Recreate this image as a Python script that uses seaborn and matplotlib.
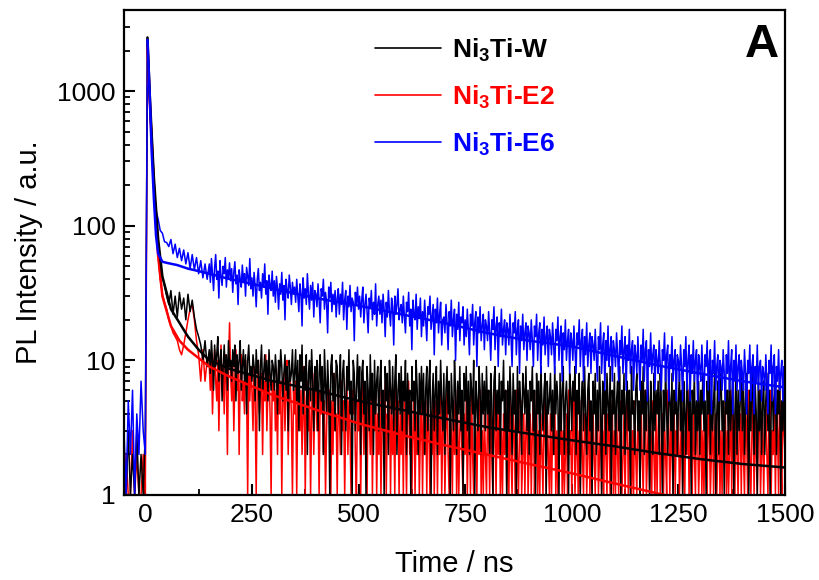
import numpy as np
import pandas as pd
import matplotlib
matplotlib.use("Agg")
import matplotlib.pyplot as plt
import seaborn as sns
from matplotlib.lines import Line2D
from matplotlib.ticker import FixedLocator, MultipleLocator, LogLocator, NullFormatter

# ---------------- data ----------------
series_names = ["Ni$_\\mathbf{3}$Ti-W", "Ni$_\\mathbf{3}$Ti-E2", "Ni$_\\mathbf{3}$Ti-E6"]
series_colors = ["#000000", "#FF0000", "#0000FF"]

# sampling grids of the decay traces (ns): coarse early part, finer tail
time_early = np.arange(-50, 146, 5)        # -50 ... 145
time_tail = np.arange(150, 1500.01, 2.5)   # 150 ... 1500

black_early = [
    2, 1, 3, 1, 2, 1, 3, 1, 2, 1, 3,
    2500, 950, 480, 230, 120, 75, 52, 42, 36, 30, 26, 33, 22, 30, 21, 32, 24, 29, 20, 31,
    23, 28, 21, 17, 15, 13, 10, 14, 9,
]
black_tail = [
    12, 8, 14, 10, 6, 13, 9, 11, 15, 7, 10, 12, 5, 9, 13, 8, 11, 6, 14, 9,
    10, 7, 12, 9, 13, 5, 11, 8, 10, 14, 6, 9, 12, 7, 11, 4, 10, 13, 8, 9,
    7, 11, 9, 5, 12, 8, 10, 3, 9, 13, 6, 8, 11, 7, 10, 5, 12, 8, 6, 10,
    9, 6, 11, 8, 4, 10, 7, 12, 9, 5, 8, 11, 6, 9, 3, 10, 7, 8, 12, 6,
    8, 12, 5, 10, 3, 11, 7, 13, 4, 9, 6, 11, 2, 8, 10, 5, 12, 7, 3, 9,
    6, 10, 3, 8, 11, 5, 9, 2, 12, 7, 4, 10, 6, 1, 9, 11, 5, 8, 3, 10,
    9, 4, 7, 11, 2, 8, 10, 5, 3, 9, 6, 12, 4, 7, 1, 10, 8, 3, 6, 11,
    5, 9, 2, 8, 10, 4, 7, 1, 9, 6, 3, 11, 5, 8, 2, 10, 4, 7, 9, 3,
    7, 10, 3, 6, 1, 9, 5, 8, 2, 10, 6, 4, 9, 3, 7, 11, 2, 6, 8, 4,
    9, 3, 7, 5, 10, 2, 8, 4, 6, 1, 9, 5, 7, 3, 10, 6, 2, 8, 4, 9,
    4, 8, 2, 6, 9, 3, 7, 10, 1, 5, 8, 3, 6, 9, 2, 7, 4, 10, 5, 3,
    8, 2, 6, 9, 4, 7, 1, 8, 5, 3, 10, 6, 2, 7, 4, 9, 3, 6, 1, 8,
    5, 9, 3, 7, 2, 8, 6, 4, 10, 1, 7, 5, 3, 9, 6, 2, 8, 4, 7, 3,
    9, 4, 6, 2, 8, 5, 1, 7, 9, 3, 6, 4, 8, 2, 7, 5, 10, 3, 6, 1,
    7, 3, 9, 5, 2, 8, 4, 6, 1, 9, 3, 7, 5, 2, 8, 6, 4, 9, 3, 6,
    2, 7, 5, 9, 3, 6, 1, 8, 4, 7, 2, 9, 5, 3, 6, 8, 1, 7, 4, 5,
    8, 3, 6, 2, 9, 4, 7, 5, 1, 8, 3, 6, 9, 2, 5, 7, 4, 1, 8, 6,
    3, 7, 5, 9, 2, 6, 4, 8, 1, 5, 7, 3, 9, 4, 2, 6, 8, 3, 5, 1,
    7, 4, 8, 2, 6, 3, 9, 5, 1, 7, 4, 6, 2, 8, 5, 3, 9, 1, 6, 4,
    8, 2, 5, 7, 3, 9, 1, 6, 4, 8, 2, 5, 7, 3, 6, 1, 9, 4, 5, 2,
    6, 8, 3, 5, 1, 7, 4, 9, 2, 6, 3, 8, 5, 1, 7, 4, 2, 8, 3, 6,
    4, 7, 2, 8, 5, 1, 6, 3, 9, 4, 2, 7, 5, 3, 8, 1, 6, 4, 7, 2,
    5, 8, 3, 6, 1, 7, 4, 2, 9, 5, 3, 7, 1, 6, 4, 8, 2, 5, 3, 7,
    2, 6, 4, 8, 3, 5, 1, 7, 4, 9, 2, 6, 3, 5, 8, 1, 4, 7, 2, 6,
    8, 3, 5, 1, 7, 4, 6, 2, 9, 3, 5, 7, 1, 4, 8, 2, 6, 3, 5, 9,
    3, 7, 2, 5, 8, 4, 1, 6, 3, 9, 5, 2, 7, 4, 1, 8, 3, 6, 2, 5,
    7, 2, 5, 8, 3, 6, 1, 4, 9, 3, 5, 7, 2, 6, 4, 8, 1, 5, 3, 6,
    4,
]

red_early = [
    1, 2, 1, 1, 3, 1, 2, 1, 1, 2, 1,
    2200, 850, 420, 200, 100, 60, 40, 31, 27, 24, 20, 18, 16, 15, 14, 12, 11, 13, 16, 20,
    24, 26, 20, 14, 11, 7, 12, 7, 10,
]
red_tail = [
    9, 6, 11, 4, 8, 12, 7, 5, 10, 3, 8, 13, 6, 9, 4, 11, 7, 2, 9, 19,
    8, 5, 10, 3, 7, 12, 6, 9, 2, 8, 11, 5, 7, 4, 10, 6, 1, 8, 5, 9,
    6, 3, 9, 5, 1, 7, 10, 4, 6, 8, 2, 7, 5, 11, 3, 6, 9, 4, 1, 7,
    5, 8, 3, 6, 2, 9, 4, 7, 1, 5, 8, 3, 6, 10, 2, 5, 7, 4, 1, 6,
    4, 7, 1, 5, 8, 3, 6, 2, 4, 9, 1, 5, 7, 3, 6, 1, 4, 8, 2, 5,
    7, 3, 5, 1, 6, 4, 8, 2, 5, 1, 3, 7, 4, 6, 1, 5, 2, 8, 3, 4,
    1, 6, 4, 2, 7, 3, 5, 1, 4, 8, 2, 5, 3, 1, 6, 4, 7, 2, 1, 5,
    3, 6, 1, 4, 7, 2, 5, 3, 1, 6, 4, 2, 8, 1, 5, 3, 6, 1, 4, 2,
    6, 1, 3, 5, 2, 7, 1, 4, 3, 6, 1, 5, 2, 4, 1, 7, 3, 5, 1, 4,
    2, 5, 1, 6, 3, 1, 4, 7, 2, 5, 1, 3, 6, 1, 4, 2, 5, 1, 3, 6,
    1, 4, 2, 5, 1, 6, 3, 1, 4, 2, 7, 1, 3, 5, 1, 4, 2, 6, 1, 3,
    5, 1, 3, 6, 2, 1, 4, 3, 1, 5, 2, 6, 1, 4, 1, 3, 5, 2, 1, 4,
    2, 5, 1, 3, 4, 1, 6, 2, 1, 4, 3, 1, 5, 2, 6, 1, 3, 1, 4, 2,
    1, 4, 3, 1, 5, 2, 1, 6, 3, 1, 4, 2, 5, 1, 3, 1, 4, 2, 6, 1,
    3, 1, 5, 2, 1, 4, 3, 1, 6, 2, 1, 3, 5, 1, 2, 4, 1, 3, 5, 1,
    2, 4, 1, 3, 5, 1, 2, 6, 1, 3, 1, 4, 2, 1, 5, 3, 1, 4, 2, 1,
    4, 1, 3, 2, 6, 1, 3, 1, 4, 2, 5, 1, 3, 1, 2, 4, 1, 6, 2, 3,
    1, 3, 5, 1, 2, 4, 1, 3, 1, 5, 2, 1, 4, 3, 1, 2, 6, 1, 3, 1,
    4, 2, 1, 3, 5, 1, 2, 4, 1, 3, 1, 6, 2, 1, 4, 3, 1, 2, 5, 1,
    3, 1, 4, 2, 1, 5, 3, 1, 2, 4, 1, 3, 6, 1, 2, 4, 1, 3, 1, 5,
    2, 1, 4, 3, 1, 5, 2, 1, 3, 6, 1, 2, 4, 1, 3, 1, 5, 2, 1, 4,
    1, 3, 5, 1, 2, 4, 1, 3, 2, 1, 6, 3, 1, 4, 2, 1, 5, 1, 3, 2,
    4, 1, 2, 5, 1, 3, 1, 4, 2, 6, 1, 3, 2, 1, 5, 2, 1, 4, 3, 1,
    2, 5, 1, 3, 1, 4, 2, 1, 6, 3, 1, 2, 5, 1, 3, 4, 1, 2, 6, 1,
    3, 1, 4, 2, 5, 1, 3, 1, 2, 6, 1, 4, 3, 1, 5, 2, 1, 3, 4, 1,
    5, 2, 1, 4, 3, 1, 6, 2, 1, 3, 5, 1, 4, 2, 1, 3, 6, 1, 2, 4,
    1, 3, 5, 2, 1, 4, 6, 1, 3, 2, 5, 1, 4, 3, 1, 7, 2, 1, 5, 3,
    2,
]

blue_early = [
    3, 1, 5, 2, 6, 1, 4, 2, 7, 3, 2,
    2400, 1000, 420, 190, 130, 112, 92, 88, 76, 75, 70, 79, 62, 73, 58, 68, 55, 66, 52, 63,
    48, 61, 47, 58, 44, 55, 41, 52, 40,
]
blue_tail = [
    52, 38, 57, 44, 33, 49, 61, 40, 46, 29, 55, 42, 36, 50, 44, 58, 35, 47, 41, 53,
    39, 48, 32, 45, 54, 37, 43, 26, 47, 40, 35, 51, 38, 44, 30, 49, 42, 36, 57, 34,
    41, 30, 45, 36, 25, 40, 48, 33, 38, 29, 44, 35, 52, 31, 39, 22, 43, 36, 33, 46,
    30, 39, 27, 42, 34, 24, 37, 31, 45, 28, 36, 20, 40, 33, 29, 43, 35, 26, 38, 31,
    35, 27, 40, 30, 23, 37, 32, 18, 41, 29, 34, 26, 44, 31, 24, 36, 28, 38, 21, 33,
    31, 25, 37, 28, 19, 34, 30, 40, 24, 32, 27, 16, 35, 29, 38, 23, 31, 26, 33, 21,
    29, 34, 22, 31, 26, 38, 20, 28, 33, 17, 30, 25, 36, 23, 29, 27, 14, 32, 26, 35,
    24, 30, 21, 28, 35, 19, 26, 31, 23, 16, 29, 25, 33, 20, 27, 22, 37, 18, 26, 30,
    22, 28, 19, 31, 24, 15, 27, 21, 33, 23, 18, 29, 25, 13, 30, 22, 26, 34, 20, 24,
    26, 19, 30, 21, 16, 27, 23, 32, 18, 24, 12, 28, 22, 20, 31, 17, 25, 21, 29, 15,
    23, 18, 28, 20, 14, 25, 22, 30, 17, 21, 26, 11, 24, 19, 29, 16, 22, 27, 13, 20,
    21, 16, 26, 19, 12, 23, 18, 28, 15, 20, 24, 10, 22, 17, 27, 14, 21, 19, 25, 13,
    20, 15, 24, 17, 11, 22, 18, 26, 13, 19, 23, 9, 21, 16, 25, 14, 18, 22, 12, 20,
    18, 14, 23, 16, 10, 20, 17, 25, 12, 18, 21, 9, 19, 15, 24, 13, 17, 20, 11, 19,
    17, 13, 22, 15, 9, 19, 16, 23, 11, 17, 20, 8, 18, 14, 22, 12, 16, 19, 10, 18,
    16, 12, 20, 14, 9, 18, 15, 22, 10, 16, 19, 8, 17, 13, 21, 11, 15, 18, 9, 17,
    15, 11, 19, 13, 8, 17, 14, 21, 10, 15, 18, 7, 16, 12, 20, 10, 14, 17, 8, 16,
    14, 10, 18, 12, 8, 16, 13, 20, 9, 14, 17, 7, 15, 11, 19, 9, 13, 16, 8, 15,
    13, 10, 17, 11, 7, 15, 12, 19, 8, 13, 16, 6, 14, 10, 18, 9, 12, 15, 7, 14,
    12, 9, 16, 11, 7, 14, 11, 18, 8, 12, 15, 6, 13, 10, 17, 8, 12, 14, 6, 13,
    11, 8, 15, 10, 6, 13, 10, 17, 7, 12, 14, 5, 12, 9, 16, 8, 11, 13, 6, 12,
    10, 8, 14, 9, 6, 12, 10, 16, 7, 11, 13, 5, 11, 9, 15, 7, 10, 12, 5, 11,
    10, 7, 13, 9, 5, 12, 9, 15, 6, 10, 13, 5, 11, 8, 14, 7, 10, 12, 5, 11,
    9, 7, 13, 8, 5, 11, 9, 14, 6, 10, 12, 4, 10, 8, 14, 6, 9, 11, 5, 10,
    9, 6, 12, 8, 5, 11, 8, 14, 6, 9, 12, 4, 10, 7, 13, 6, 9, 11, 5, 10,
    8, 6, 12, 8, 4, 10, 8, 13, 5, 9, 11, 4, 9, 7, 13, 6, 9, 10, 5, 9,
    8, 6, 11, 7, 4, 10, 8, 13, 5, 9, 11, 4, 9, 7, 12, 6, 8, 10, 5, 9,
    8,
]

# fitted decay curves (read at knots)
black_fit_t = [5, 10, 15, 20, 30, 40, 60, 80, 100, 125, 150, 200, 300, 400, 500,
               600, 700, 800, 900, 1000, 1100, 1200, 1300, 1400, 1500]
black_fit = [2500, 1000, 470, 230, 80, 42, 24, 19, 15, 12, 10, 8.6, 7.0, 6.0, 5.0,
             4.3, 3.7, 3.2, 2.85, 2.55, 2.3, 2.05, 1.85, 1.7, 1.6]

red_fit_t = [5, 10, 15, 20, 30, 40, 60, 80, 100, 150, 200, 300, 400, 500, 600,
             700, 800, 900, 1000, 1100, 1200, 1300]
red_fit = [2200, 900, 420, 200, 60, 30, 18, 14, 12, 9, 7.5, 5.5, 4.3, 3.4, 2.8,
           2.35, 2.0, 1.7, 1.45, 1.22, 1.03, 0.87]

blue_fit_t = [5, 10, 15, 20, 25, 30, 40, 50, 75, 100, 125, 150, 200, 250, 300, 400,
              500, 600, 700, 800, 900, 1000, 1100, 1200, 1300, 1400, 1500]
blue_fit = [2400, 1000, 350, 160, 85, 62, 54, 53, 51, 48, 46, 44, 40, 37, 34, 29,
            25.5, 22, 19, 16, 14, 12.7, 10.8, 9.2, 8.0, 7.0, 6.3]

x_ticks = [0, 250, 500, 750, 1000, 1250, 1500]
y_ticks = [1, 10, 100, 1000]
y_tick_labels = ["1", "10", "100", "1000"]

# ---------------- style ----------------
sns.set_theme(style="ticks")
plt.rcParams["font.family"] = ["Liberation Sans", "DejaVu Sans"]
plt.rcParams["mathtext.fontset"] = "custom"
plt.rcParams["mathtext.rm"] = "Liberation Sans"
plt.rcParams["mathtext.bf"] = "Liberation Sans:bold"
plt.rcParams["text.color"] = "black"
plt.rcParams["axes.labelcolor"] = "black"
plt.rcParams["xtick.color"] = "black"
plt.rcParams["ytick.color"] = "black"
plt.rcParams["axes.edgecolor"] = "black"

fig = plt.figure(figsize=(8.2, 5.8), dpi=100)
ax = fig.add_axes([124 / 820, 85 / 580, 661 / 820, 485 / 580])

time_all = np.concatenate([time_early, time_tail])
raw = {
    "black": pd.DataFrame({"t": time_all, "I": black_early + black_tail}),
    "red": pd.DataFrame({"t": time_all, "I": red_early + red_tail}),
    "blue": pd.DataFrame({"t": time_all, "I": blue_early + blue_tail}),
}
fits = {
    "black": pd.DataFrame({"t": black_fit_t, "I": black_fit}),
    "red": pd.DataFrame({"t": red_fit_t, "I": red_fit}),
    "blue": pd.DataFrame({"t": blue_fit_t, "I": blue_fit}),
}
cmap = {"black": series_colors[0], "red": series_colors[1], "blue": series_colors[2]}

for key in ["red", "black", "blue"]:
    sns.lineplot(data=raw[key], x="t", y="I", color=cmap[key], lw=1.1,
                 estimator=None, sort=False, legend=False, ax=ax)
for key in ["red", "black", "blue"]:
    sns.lineplot(data=fits[key], x="t", y="I", color=cmap[key], lw=1.8,
                 estimator=None, sort=False, legend=False, ax=ax)

ax.set_yscale("log")
ax.set_xlim(-50, 1500)
ax.set_ylim(1, 4000)

ax.xaxis.set_major_locator(FixedLocator(x_ticks))
ax.xaxis.set_minor_locator(MultipleLocator(125))
ax.set_xticklabels([str(v) for v in x_ticks])
ax.yaxis.set_major_locator(FixedLocator(y_ticks))
ax.set_yticklabels(y_tick_labels)
ax.yaxis.set_minor_locator(LogLocator(base=10, subs=np.arange(2, 10)))
ax.yaxis.set_minor_formatter(NullFormatter())

ax.tick_params(which="both", direction="in", top=False, right=False, colors="black")
ax.tick_params(which="major", length=8, width=1.5, labelsize=19, pad=6)
ax.tick_params(which="minor", length=4.5, width=1.3)
for sp in ax.spines.values():
    sp.set_linewidth(1.6)
    sp.set_color("black")
ax.grid(False)

ax.set_xlabel("Time / ns", fontsize=21, labelpad=16)
ax.set_ylabel("PL Intensity / a.u.", fontsize=21, labelpad=10)

handles = [Line2D([], [], color=c, lw=1.2) for c in series_colors]
leg = ax.legend(handles, series_names, loc="upper left",
                bbox_to_anchor=(375 / 820, 1 - 36 / 580), bbox_transform=fig.transFigure,
                frameon=False, fontsize=19, handlelength=2.5, handletextpad=0.4,
                labelspacing=0.75, borderaxespad=0, borderpad=0)
for txt, c in zip(leg.get_texts(), series_colors):
    txt.set_color(c)
    txt.set_fontweight("bold")

fig.text(762 / 820, 1 - 45 / 580, "A", ha="center", va="center",
         fontsize=34, fontweight="bold", color="black")

fig.savefig("out.png", dpi=100)
